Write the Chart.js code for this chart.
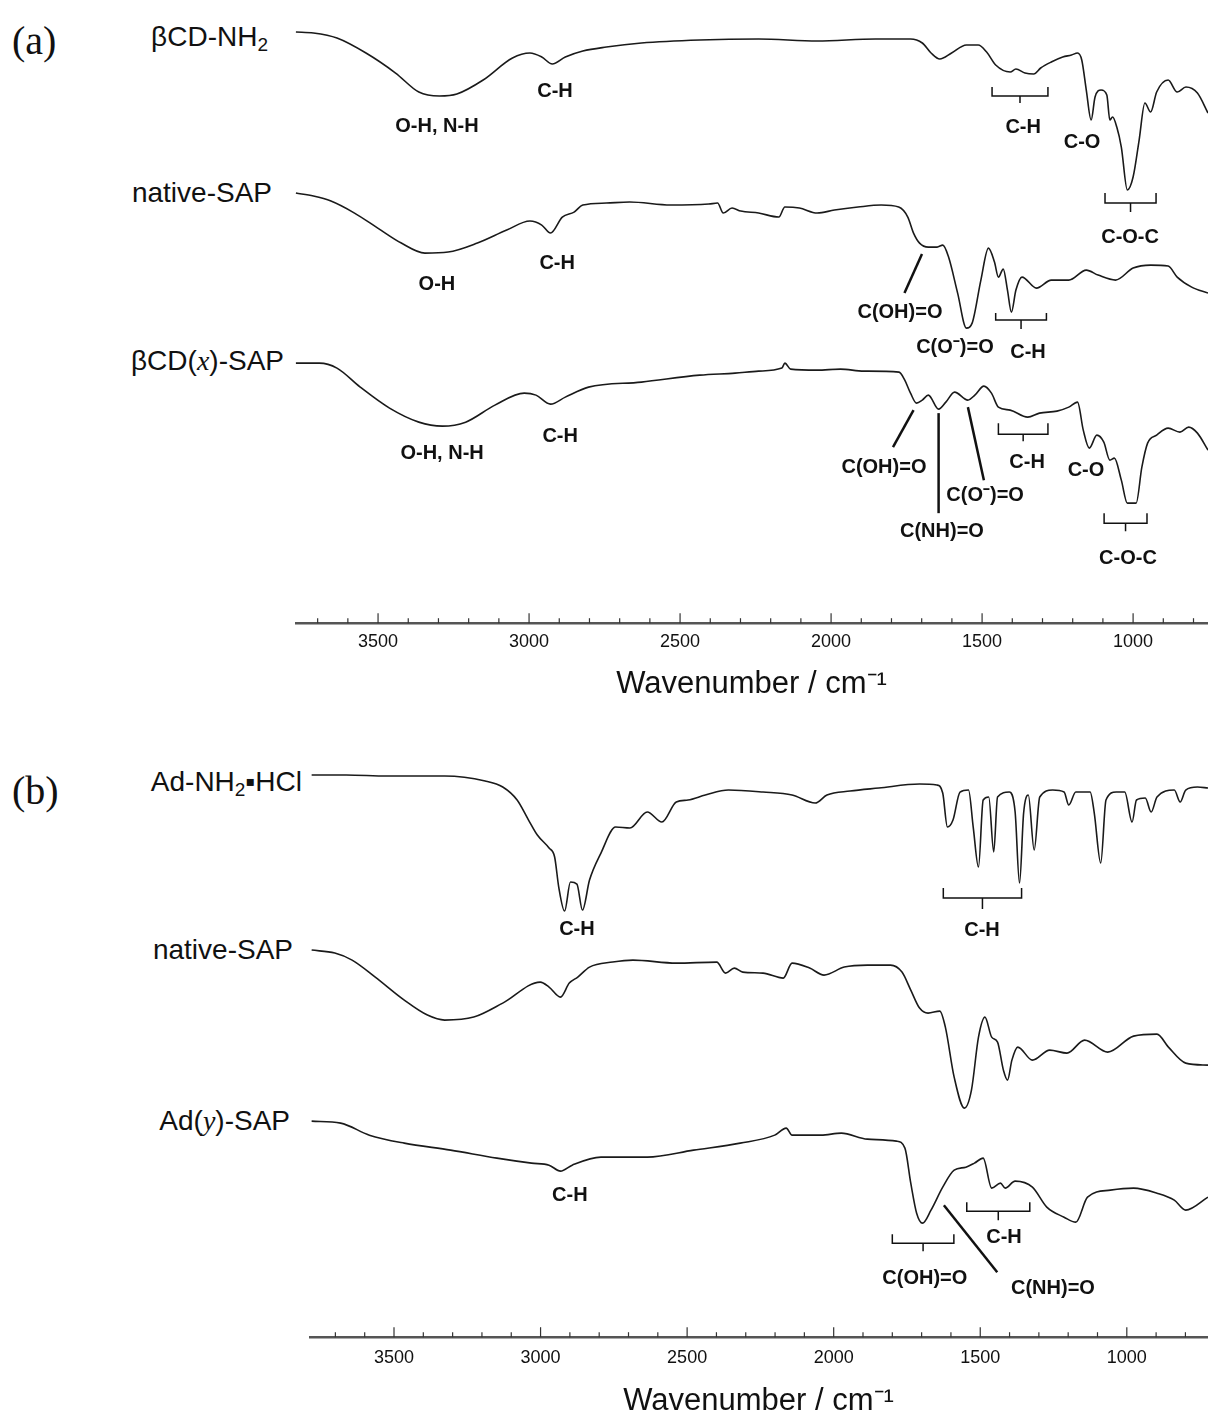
<!DOCTYPE html>
<html>
<head>
<meta charset="utf-8">
<script src="https://cdn.jsdelivr.net/npm/chart.js@4.4.1/dist/chart.umd.min.js"></script>
<style>
  body { margin: 0; background: #fff; width: 1208px; height: 1418px; overflow: hidden; position: relative;
         font-family: "Liberation Sans", Arial, sans-serif; color: #111; }
  .box { position: absolute; left: 0; width: 1208px; }
  .lbl { position: absolute; font-size: 28px; white-space: nowrap; transform: translate(-100%, -50%); }
  .pan { position: absolute; font-family: "Liberation Serif", "Times New Roman", serif; font-size: 40px; transform: translateY(-50%); }
  .it { font-family: "Liberation Serif", serif; font-style: italic; }
  sub { font-size: 19px; vertical-align: -5px; line-height: 0; }
</style>
</head>
<body>
<div class="pan" style="left:12px; top:40px;">(a)</div>
<div class="lbl" style="left:268px; top:37px;">βCD-NH<sub>2</sub></div>
<div class="lbl" style="left:272px; top:193px;">native-SAP</div>
<div class="lbl" style="left:284px; top:361px;">βCD(<span class="it">x</span>)-SAP</div>

<div class="pan" style="left:12px; top:790px;">(b)</div>
<div class="lbl" style="left:302px; top:782px;">Ad-NH<sub>2</sub>▪HCl</div>
<div class="lbl" style="left:293px; top:950px;">native-SAP</div>
<div class="lbl" style="left:290px; top:1121px;">Ad(<span class="it">y</span>)-SAP</div>

<div class="box" style="top:0; height:720px;"><canvas id="chartA"></canvas></div>
<div class="box" style="top:700px; height:725px;"><canvas id="chartB"></canvas></div>

<script>
// tick labels (cm-1)
const tickVals = [3500, 3000, 2500, 2000, 1500, 1000];

// ---- (a) spectra: wavenumber / offset transmittance ----
const bcdNh2Wn = [3772,3714,3636,3540,3442,3365,3297,3239,3152,3055,2997,2958,2923,2880,2822,2744,2628,2435,2240,2046,1853,1737,1698,1669,1640,1601,1552,1513,1485,1455,1407,1388,1358,1329,1306,1271,1233,1204,1184,1170,1155,1139,1126,1106,1087,1077,1068,1054,1039,1019,1000,980,961,942,922,884,854,825,787,752];
const bcdNh2T  = [591,590,585,570,550,531,527,529,543,565,570,566,559,566,572,576,580,583,584,582,584,584,580,570,564,570,578,578,571,558,551,554,550,549,555,561,566,568,570,563,533,503,526,533,528,503,506,496,476,433,446,483,520,511,531,543,531,536,530,510];

const sapAWn = [3772,3714,3656,3578,3501,3423,3345,3268,3171,3074,2997,2958,2929,2890,2851,2822,2744,2667,2531,2405,2376,2357,2328,2299,2240,2173,2153,2105,2046,1989,1911,1834,1776,1746,1727,1707,1678,1649,1630,1611,1581,1552,1533,1504,1479,1459,1446,1430,1416,1403,1388,1368,1320,1271,1213,1155,1116,1058,1000,942,884,854,806,752];
const sapAT  = [430,427,422,410,395,380,370,371,380,393,402,398,390,406,411,418,420,421,418,419,420,410,415,412,410,406,416,415,410,413,416,418,416,406,390,380,376,376,378,366,330,295,300,343,375,361,346,354,333,311,333,346,335,343,343,353,348,343,355,358,357,346,336,330];

const bcdSapWn = [3772,3694,3636,3559,3462,3365,3287,3210,3113,3016,2977,2929,2880,2803,2628,2435,2318,2240,2163,2153,2134,2046,1969,1892,1775,1756,1737,1717,1698,1678,1644,1620,1591,1547,1524,1494,1469,1446,1407,1349,1310,1252,1213,1184,1165,1145,1120,1097,1077,1062,1039,1019,990,971,952,922,884,845,816,787,752];
const bcdSapT  = [260,260,255,236,215,201,197,201,218,230,228,219,226,236,241,248,250,252,255,260,254,253,254,252,251,243,230,220,223,228,214,221,231,223,228,237,230,216,213,206,210,212,216,221,193,175,188,181,163,165,143,120,120,156,180,188,195,191,196,190,173];

// ---- (b) spectra ----
const adNh2Wn = [3781,3663,3524,3327,3189,3129,3080,3041,3011,2971,2952,2938,2918,2898,2876,2857,2833,2794,2744,2695,2636,2586,2537,2497,2438,2359,2241,2142,2063,2023,1944,1846,1707,1648,1628,1612,1593,1569,1540,1524,1506,1490,1471,1454,1441,1401,1381,1366,1352,1336,1316,1297,1253,1214,1198,1174,1125,1111,1089,1071,1036,1007,982,967,937,917,897,838,818,799,759,723];
const adNh2T  = [562,562,561,561,556,550,537,517,502,489,480,450,426,455,453,427,457,484,510,509,525,515,535,537,542,547,545,542,534,542,546,549,553,552,544,510,517,545,547,510,470,537,540,485,540,545,525,454,524,542,487,540,547,545,532,545,545,524,474,537,545,545,515,537,539,525,540,547,535,547,550,549];

const sapBWn = [3781,3702,3643,3564,3465,3386,3327,3228,3129,3001,2971,2932,2902,2873,2833,2754,2685,2537,2399,2369,2339,2310,2241,2172,2142,2082,2033,1964,1885,1806,1767,1737,1707,1678,1638,1619,1589,1554,1530,1506,1484,1461,1441,1421,1407,1392,1372,1322,1263,1204,1144,1065,977,897,858,799,723];
const sapBT  = [387,384,377,360,337,322,317,320,334,355,350,340,354,360,370,375,377,374,375,364,369,365,364,359,374,369,362,370,372,372,365,347,329,324,326,310,260,229,247,300,320,300,295,267,257,277,290,277,287,284,297,285,301,303,290,274,272];

const adSapWn = [3781,3682,3584,3465,3307,3149,3031,2971,2932,2892,2794,2636,2478,2319,2201,2162,2142,2043,1974,1885,1786,1757,1737,1717,1697,1668,1628,1589,1549,1520,1490,1461,1431,1415,1381,1322,1273,1214,1174,1134,1056,977,897,838,799,723];
const adSapT  = [216,214,202,194,187,179,174,172,166,172,180,180,187,194,202,209,202,202,204,198,196,189,154,124,114,127,150,167,170,174,179,149,154,149,156,150,130,120,115,140,147,149,144,137,127,140];

// peak labels, brackets and leader lines (placed on the chart scales)
const notesA = [
  {t:'txt', w:3305, v:497, s:'O-H, N-H'}, {t:'txt', w:2914, v:532, s:'C-H'},
  {t:'br', w1:1467, w2:1282, v1:536, v2:527, v3:520}, {t:'txt', w:1364, v:496, s:'C-H'},
  {t:'txt', w:1169, v:481, s:'C-O'},
  {t:'br', w1:1093, w2:924, v1:430, v2:420, v3:411}, {t:'txt', w:1010, v:386, s:'C-O-C'},

  {t:'txt', w:3305, v:339, s:'O-H'}, {t:'txt', w:2907, v:360, s:'C-H'},
  {t:'ln', w1:1699, v1:369, w2:1757, v2:330}, {t:'txt', w:1772, v:311, s:'C(OH)=O'},
  {t:'txt', w:1590, v:276, s:'C(O⁻)=O'},
  {t:'br', w1:1455, w2:1287, v1:310, v2:303, v3:294}, {t:'txt', w:1348, v:271, s:'C-H'},

  {t:'txt', w:3288, v:170, s:'O-H, N-H'}, {t:'txt', w:2897, v:187, s:'C-H'},
  {t:'ln', w1:1727, v1:213, w2:1795, v2:176}, {t:'txt', w:1825, v:156, s:'C(OH)=O'},
  {t:'ln', w1:1644, v1:210, w2:1644, v2:110}, {t:'txt', w:1633, v:92, s:'C(NH)=O'},
  {t:'ln', w1:1547, v1:216, w2:1494, v2:143}, {t:'txt', w:1490, v:128, s:'C(O⁻)=O'},
  {t:'br', w1:1446, w2:1282, v1:200, v2:189, v3:182}, {t:'txt', w:1351, v:161, s:'C-H'},
  {t:'txt', w:1156, v:153, s:'C-O'},
  {t:'br', w1:1096, w2:954, v1:110, v2:100, v3:92}, {t:'txt', w:1017, v:65, s:'C-O-C'}
];
const notesB = [
  {t:'txt', w:2876, v:408, s:'C-H'},
  {t:'br', w1:1626, w2:1359, v1:449, v2:439, v3:428}, {t:'txt', w:1494, v:407, s:'C-H'},
  {t:'txt', w:2900, v:142, s:'C-H'},
  {t:'br', w1:1800, w2:1590, v1:103, v2:94, v3:86}, {t:'txt', w:1689, v:59, s:'C(OH)=O'},
  {t:'br', w1:1546, w2:1331, v1:135, v2:126, v3:117}, {t:'txt', w:1419, v:100, s:'C-H'},
  {t:'ln', w1:1624, v1:132, w2:1442, v2:65}, {t:'txt', w:1252, v:49, s:'C(NH)=O'}
];

function pts(wn, t) { return wn.map((w, i) => ({x: w, y: t[i]})); }

function deco(notes) {
  return {
    id: 'deco',
    afterDraw(chart) {
      const ctx = chart.ctx, xs = chart.scales.x, ys = chart.scales.y, area = chart.chartArea;
      ctx.save();
      // axis line with upward ticks
      ctx.strokeStyle = '#555';
      ctx.lineWidth = 2.5;
      ctx.beginPath();
      ctx.moveTo(area.left, area.bottom); ctx.lineTo(area.right, area.bottom);
      ctx.stroke();
      ctx.lineWidth = 1.2;
      ctx.strokeStyle = '#333';
      for (let w = 800; w <= 3700; w += 100) {
        if (w < xs.min || w > xs.max) continue;
        const px = xs.getPixelForValue(w);
        const len = w % 500 === 0 ? 10 : 5;
        ctx.beginPath(); ctx.moveTo(px, area.bottom); ctx.lineTo(px, area.bottom - len); ctx.stroke();
      }
      // annotations
      ctx.fillStyle = '#111';
      ctx.strokeStyle = '#111';
      ctx.font = 'bold 20px "Liberation Sans", Arial, sans-serif';
      ctx.textAlign = 'center';
      ctx.textBaseline = 'middle';
      notes.forEach(n => {
        if (n.t === 'txt') {
          ctx.fillText(n.s, xs.getPixelForValue(n.w), ys.getPixelForValue(n.v));
        } else if (n.t === 'ln') {
          ctx.lineWidth = 2.5;
          ctx.beginPath();
          ctx.moveTo(xs.getPixelForValue(n.w1), ys.getPixelForValue(n.v1));
          ctx.lineTo(xs.getPixelForValue(n.w2), ys.getPixelForValue(n.v2));
          ctx.stroke();
        } else {
          const a = xs.getPixelForValue(n.w1), b = xs.getPixelForValue(n.w2);
          const t = ys.getPixelForValue(n.v1), m = ys.getPixelForValue(n.v2), e = ys.getPixelForValue(n.v3);
          const c = (a + b) / 2;
          ctx.lineWidth = 1.5;
          ctx.beginPath();
          ctx.moveTo(a, t); ctx.lineTo(a, m); ctx.lineTo(b, m); ctx.lineTo(b, t);
          ctx.moveTo(c, m); ctx.lineTo(c, e);
          ctx.stroke();
        }
      });
      ctx.restore();
    }
  };
}

function makeChart(id, series, xmin, xmax, ymax, tickPad, titlePad, padBottom, padLeft, notes) {
  return new Chart(document.getElementById(id), {
    type: 'line',
    data: {
      datasets: series.map(s => ({
        label: s.name,
        data: s.data,
        borderColor: '#1a1a1a',
        borderWidth: 1.6,
        pointRadius: 0,
        fill: false,
        cubicInterpolationMode: 'monotone'
      }))
    },
    options: {
      responsive: true,
      maintainAspectRatio: false,
      animation: false,
      layout: { padding: { left: padLeft, right: 0, top: 0, bottom: padBottom } },
      plugins: { legend: { display: false }, tooltip: { enabled: false } },
      scales: {
        x: {
          type: 'linear', reverse: true, min: xmin, max: xmax,
          grid: { display: false, drawTicks: false },
          border: { display: false },
          afterBuildTicks: s => { s.ticks = tickVals.map(v => ({ value: v })); },
          ticks: { padding: tickPad, color: '#111', autoSkip: false, maxRotation: 0,
                   callback: v => String(v),
                   font: { size: 18, family: '"Liberation Sans", Arial, sans-serif' } },
          title: { display: true, text: 'Wavenumber / cm⁻¹', color: '#111',
                   font: { size: 31, family: '"Liberation Sans", Arial, sans-serif' },
                   padding: { top: titlePad, bottom: 0 } }
        },
        y: { display: false, min: 0, max: ymax }
      }
    },
    plugins: [deco(notes)]
  });
}

makeChart('chartA', [
  { name: 'βCD-NH2', data: pts(bcdNh2Wn, bcdNh2T) },
  { name: 'native-SAP', data: pts(sapAWn, sapAT) },
  { name: 'βCD(x)-SAP', data: pts(bcdSapWn, bcdSapT) }
], 752, 3775, 623, 8, 5, 17, 295, notesA);

makeChart('chartB', [
  { name: 'Ad-NH2·HCl', data: pts(adNh2Wn, adNh2T) },
  { name: 'native-SAP', data: pts(sapBWn, sapBT) },
  { name: 'Ad(y)-SAP', data: pts(adSapWn, adSapT) }
], 723, 3790, 637, 10, 4, 5, 309, notesB);
</script>
</body>
</html>
